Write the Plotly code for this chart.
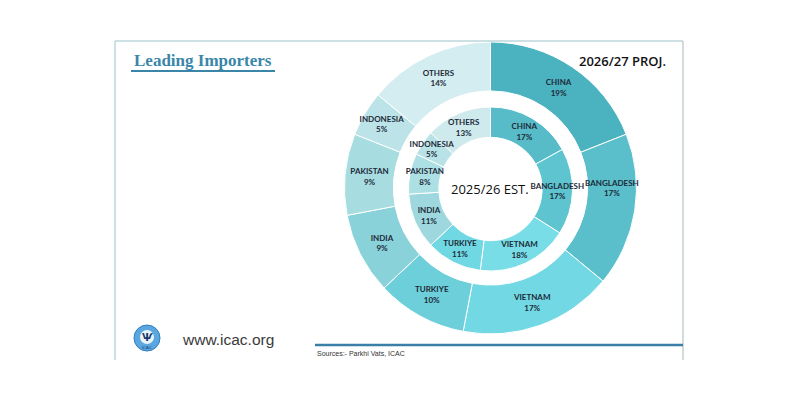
import plotly.graph_objects as go

countries = ["CHINA", "BANGLADESH", "VIETNAM", "TURKIYE", "INDIA", "PAKISTAN", "INDONESIA", "OTHERS"]
proj_2026 = [19, 17, 17, 10, 9, 9, 5, 14]
est_2025 = [17, 17, 18, 11, 11, 8, 5, 13]

outer_colors = ["#4bb2bf", "#5abfcb", "#72d9e4", "#6ccfda", "#8ad2da", "#a7dce1", "#bce3e7", "#d4edf0"]
inner_colors = ["#58bcc8", "#5ec4cf", "#78dde7", "#70d8e3", "#9ed8de", "#ade0e4", "#b8e2e6", "#cfeaed"]

W, H = 800, 400

def dom(cx, cy, r):
    return dict(x=[(cx - r) / W, (cx + r) / W], y=[(H - cy - r) / H, (H - cy + r) / H])

label_font = dict(family="Lato", size=8, color="#1d2a38", weight="bold")

OUTER = dict(domain=dom(490.5, 188, 146), hole=0.665)
INNER = dict(domain=dom(490.5, 189, 82), hole=0.63)

fig = go.Figure()
# coloured rings
for vals, cols, geo in [(proj_2026, outer_colors, OUTER), (est_2025, inner_colors, INNER)]:
    fig.add_trace(go.Pie(
        labels=countries, values=vals, sort=False, direction="clockwise", rotation=0,
        hole=geo["hole"], domain=geo["domain"],
        marker=dict(colors=cols, line=dict(color="white", width=1)),
        textinfo="none", hoverinfo="label+value", showlegend=False,
    ))
# label layers on top (transparent slices) so no slice covers a label
for vals, geo in [(proj_2026, OUTER), (est_2025, INNER)]:
    fig.add_trace(go.Pie(
        labels=countries, values=vals, sort=False, direction="clockwise", rotation=0,
        hole=geo["hole"], domain=geo["domain"],
        marker=dict(colors=["rgba(0,0,0,0)"] * len(vals), line=dict(width=0)),
        texttemplate="%{label}<br>%{value}%", textposition="inside",
        insidetextorientation="horizontal", textfont=label_font, hoverinfo="skip",
        showlegend=False,
    ))

def px(x):
    return x / W

def py(y):
    return 1 - y / H

shapes = [
    dict(type="line", xref="paper", yref="paper", x0=px(115), x1=px(683), y0=py(41), y1=py(41),
         line=dict(color="#bcd6da", width=1.5)),
    dict(type="line", xref="paper", yref="paper", x0=px(115), x1=px(115), y0=py(41), y1=py(360),
         line=dict(color="#bcd6da", width=1.5)),
    dict(type="line", xref="paper", yref="paper", x0=px(683), x1=px(683), y0=py(41), y1=py(360),
         line=dict(color="#c4cfcf", width=1.5)),
    dict(type="line", xref="paper", yref="paper", x0=px(131), x1=px(275), y0=py(71), y1=py(71),
         line=dict(color="#3a86a8", width=2)),
    dict(type="line", xref="paper", yref="paper", x0=px(315), x1=px(683), y0=py(345), y1=py(345),
         line=dict(color="#3a7fa8", width=2.5)),
    dict(type="circle", xref="paper", yref="paper", x0=px(134), x1=px(160), y0=py(351), y1=py(325),
         fillcolor="#5aa6de", line=dict(color="#2f7fc0", width=1)),
    dict(type="circle", xref="paper", yref="paper", x0=px(140), x1=px(154), y0=py(344), y1=py(330),
         fillcolor="#eaf4fb", line=dict(color="#eaf4fb", width=0)),
]

annotations = [
    dict(text="<b>Leading Importers</b>", x=px(132), y=py(60), xref="paper", yref="paper",
         xanchor="left", yanchor="middle", showarrow=False,
         font=dict(family="Liberation Serif", size=17, color="#3a86a8")),
    dict(text="2026/27 PROJ.", x=px(622), y=py(61), xref="paper", yref="paper",
         xanchor="center", yanchor="middle", showarrow=False,
         font=dict(family="Open Sans", size=13, color="#111111", weight=600)),
    dict(text="2025/26 EST.", x=px(490), y=py(189), xref="paper", yref="paper",
         xanchor="center", yanchor="middle", showarrow=False,
         font=dict(family="Open Sans", size=13, color="#111111")),
    dict(text="www.icac.org", x=px(180), y=py(339), xref="paper", yref="paper",
         xanchor="left", yanchor="middle", showarrow=False,
         font=dict(family="Liberation Sans", size=15.5, color="#3a3a3a")),
    dict(text="Sources:- Parkhi Vats, ICAC", x=px(315), y=py(353), xref="paper", yref="paper",
         xanchor="left", yanchor="middle", showarrow=False,
         font=dict(family="Liberation Sans Narrow, Liberation Sans", size=7, color="#333333")),
    dict(text="ICAC", x=px(147), y=py(347), xref="paper", yref="paper",
         xanchor="center", yanchor="middle", showarrow=False,
         font=dict(family="Liberation Sans", size=4, color="#1a3a6a")),
    dict(text="<b>Ѱ</b>", x=px(147), y=py(337), xref="paper", yref="paper",
         xanchor="center", yanchor="middle", showarrow=False,
         font=dict(family="DejaVu Sans", size=10, color="#1a3a6a")),
]

fig.update_layout(
    width=W, height=H, margin=dict(l=0, r=0, t=0, b=0),
    paper_bgcolor="white", plot_bgcolor="white",
    shapes=shapes, annotations=annotations,
    uniformtext=dict(minsize=8, mode="show"),
)

fig.write_html("out.html")
